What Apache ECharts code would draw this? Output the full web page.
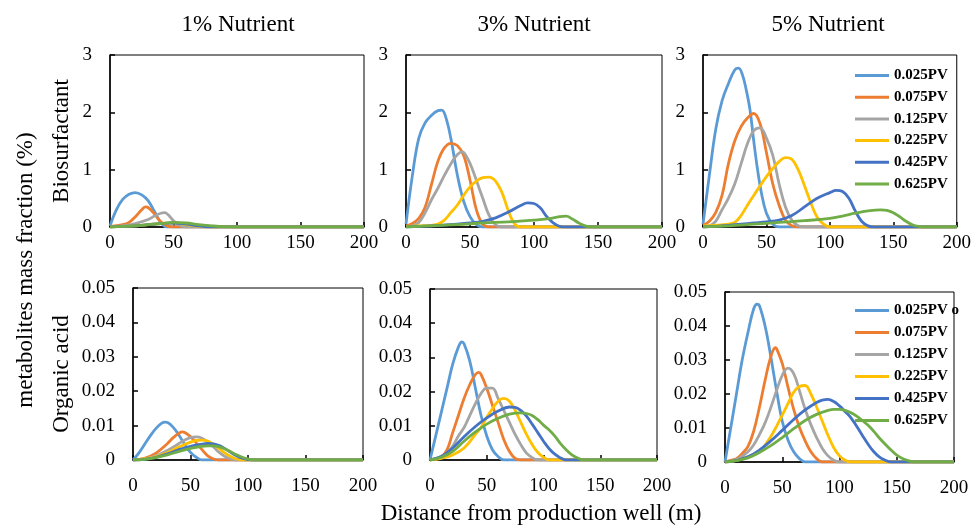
<!DOCTYPE html>
<html>
<head>
<meta charset="utf-8">
<script src="https://cdn.jsdelivr.net/npm/echarts@6/dist/echarts.min.js"></script>
<style>
  html, body { margin: 0; padding: 0; background: #fff; }
  #chart { width: 974px; height: 527px; }
</style>
</head>
<body>
<div id="chart"></div>
<script>
// Injection stages (pore volumes) and their line colours
const stages = ['0.025PV', '0.075PV', '0.125PV', '0.225PV', '0.425PV', '0.625PV'];
const stageColors = ['#5B9BD5', '#ED7D31', '#A5A5A5', '#FFC000', '#4472C4', '#70AD47'];
const nutrientTitles = ['1% Nutrient', '3% Nutrient', '5% Nutrient'];
const xTicks = [0, 50, 100, 150, 200];

// Biosurfactant mass fraction (%) vs distance (m), 1% nutrient
const bio1_025 = [[0,0.02],[5,0.3],[10,0.48],[15,0.57],[20,0.6],[25,0.56],[30,0.46],[35,0.27],[40,0.08],[45,0],[200,0]];
const bio1_075 = [[0,0.01],[10,0.04],[15,0.08],[20,0.18],[25,0.3],[28,0.35],[30,0.34],[35,0.23],[40,0.09],[45,0.02],[50,0],[200,0]];
const bio1_125 = [[0,0],[10,0.02],[20,0.06],[30,0.13],[35,0.19],[40,0.24],[43,0.25],[46,0.21],[50,0.11],[55,0.03],[60,0],[200,0]];
const bio1_225 = [[0,0],[20,0.02],[30,0.04],[40,0.06],[50,0.07],[55,0.06],[60,0.04],[70,0.01],[80,0],[200,0]];
const bio1_425 = [[0,0],[20,0.02],[30,0.04],[40,0.06],[50,0.07],[60,0.05],[70,0.02],[80,0],[200,0]];
const bio1_625 = [[0,0],[20,0.02],[30,0.04],[40,0.06],[50,0.08],[60,0.07],[70,0.04],[80,0.02],[90,0.005],[100,0],[200,0]];

// Biosurfactant, 3% nutrient
const bio3_025 = [[0,0.05],[5,0.9],[10,1.55],[15,1.82],[20,1.95],[25,2.03],[28,2.04],[31,1.92],[35,1.55],[40,0.92],[45,0.45],[50,0.18],[55,0.04],[60,0],[200,0]];
const bio3_075 = [[0,0.02],[5,0.06],[10,0.15],[15,0.35],[20,0.75],[25,1.15],[30,1.38],[35,1.46],[40,1.42],[45,1.25],[50,0.82],[55,0.3],[60,0.05],[65,0],[200,0]];
const bio3_125 = [[0,0],[5,0.02],[10,0.08],[15,0.25],[20,0.48],[25,0.68],[30,0.9],[35,1.1],[40,1.26],[44,1.31],[48,1.2],[52,1.0],[56,0.75],[60,0.5],[65,0.2],[70,0.04],[75,0],[200,0]];
const bio3_225 = [[0,0.01],[10,0.02],[20,0.03],[25,0.05],[30,0.12],[35,0.25],[40,0.38],[45,0.55],[50,0.7],[55,0.8],[60,0.86],[65,0.87],[70,0.8],[75,0.6],[80,0.28],[85,0.05],[90,0],[200,0]];
const bio3_425 = [[0,0],[20,0.02],[40,0.05],[50,0.07],[60,0.1],[70,0.16],[80,0.26],[90,0.38],[95,0.42],[100,0.41],[105,0.33],[110,0.18],[115,0.07],[120,0.01],[125,0],[200,0]];
const bio3_625 = [[0,0],[20,0.02],[40,0.04],[60,0.07],[80,0.09],[100,0.12],[110,0.14],[120,0.18],[125,0.19],[130,0.14],[135,0.07],[140,0.02],[145,0],[200,0]];

// Biosurfactant, 5% nutrient
const bio5_025 = [[0,0.05],[5,0.9],[10,1.7],[15,2.2],[20,2.5],[25,2.74],[28,2.77],[31,2.66],[34,2.4],[37,2.05],[40,1.5],[43,1.0],[46,0.6],[50,0.24],[55,0.05],[60,0],[200,0]];
const bio5_075 = [[0,0.03],[5,0.1],[10,0.25],[15,0.55],[20,1.1],[25,1.5],[30,1.75],[35,1.9],[40,1.98],[45,1.8],[50,1.3],[55,0.75],[60,0.38],[65,0.12],[70,0.02],[75,0],[200,0]];
const bio5_125 = [[0,0],[5,0.02],[10,0.1],[15,0.3],[20,0.5],[25,0.75],[30,1.1],[35,1.45],[40,1.68],[45,1.73],[50,1.55],[55,1.25],[60,0.75],[65,0.35],[70,0.12],[75,0.02],[80,0],[200,0]];
const bio5_225 = [[0,0.02],[10,0.03],[20,0.05],[25,0.08],[30,0.2],[35,0.38],[40,0.55],[45,0.72],[50,0.88],[55,1.02],[60,1.14],[65,1.21],[70,1.18],[75,1.0],[80,0.72],[85,0.42],[90,0.17],[95,0.05],[100,0],[200,0]];
const bio5_425 = [[0,0],[10,0.01],[20,0.03],[30,0.05],[40,0.07],[50,0.09],[60,0.12],[70,0.2],[80,0.35],[90,0.5],[100,0.6],[105,0.64],[110,0.62],[115,0.5],[120,0.28],[125,0.1],[130,0.02],[135,0],[200,0]];
const bio5_625 = [[0,0],[20,0.02],[40,0.05],[60,0.08],[80,0.11],[100,0.15],[110,0.19],[120,0.24],[130,0.28],[140,0.3],[145,0.29],[150,0.25],[155,0.18],[160,0.1],[165,0.04],[170,0.01],[175,0],[200,0]];

// Organic acid mass fraction (%), 1% nutrient
const oa1_025 = [[0,0],[5,0.002],[10,0.0045],[15,0.007],[20,0.0092],[25,0.0107],[28,0.011],[30,0.0109],[35,0.0095],[40,0.0072],[45,0.0045],[50,0.0022],[55,0.0008],[60,0],[200,0]];
const oa1_075 = [[0,0],[10,0.0005],[20,0.002],[30,0.0048],[35,0.0065],[40,0.0078],[43,0.0082],[45,0.008],[50,0.0068],[55,0.005],[60,0.003],[65,0.0012],[70,0.0003],[75,0],[200,0]];
const oa1_125 = [[0,0],[10,0.0003],[20,0.0012],[30,0.0028],[40,0.0048],[45,0.0058],[50,0.0065],[55,0.0067],[60,0.0063],[65,0.0052],[70,0.0038],[75,0.0022],[80,0.001],[85,0.0003],[90,0],[200,0]];
const oa1_225 = [[0,0],[10,0.0003],[20,0.001],[30,0.0022],[40,0.0038],[50,0.0052],[55,0.0057],[60,0.0058],[65,0.0055],[70,0.0045],[75,0.0033],[80,0.002],[85,0.001],[90,0.0003],[95,0],[200,0]];
const oa1_425 = [[0,0],[10,0.0002],[20,0.0008],[30,0.0018],[40,0.003],[50,0.004],[60,0.0046],[65,0.0048],[70,0.0047],[75,0.0042],[80,0.0033],[85,0.0022],[90,0.0012],[95,0.0005],[100,0.0001],[105,0],[200,0]];
const oa1_625 = [[0,0],[10,0.0002],[20,0.0007],[30,0.0015],[40,0.0025],[50,0.0034],[60,0.004],[65,0.0041],[70,0.0041],[75,0.0038],[80,0.0032],[85,0.0024],[90,0.0015],[95,0.0008],[100,0.0003],[105,0],[200,0]];

// Organic acid, 3% nutrient
const oa3_025 = [[0,0],[5,0.007],[10,0.014],[15,0.021],[20,0.028],[25,0.033],[28,0.0345],[30,0.034],[35,0.029],[40,0.021],[45,0.013],[50,0.007],[55,0.003],[60,0.001],[65,0],[200,0]];
const oa3_075 = [[0,0],[5,0.0003],[10,0.001],[15,0.003],[20,0.008],[25,0.013],[30,0.018],[35,0.022],[40,0.025],[43,0.0256],[45,0.025],[50,0.021],[55,0.016],[60,0.011],[65,0.006],[70,0.0025],[75,0.0005],[80,0],[200,0]];
const oa3_125 = [[0,0],[10,0.001],[15,0.002],[20,0.004],[25,0.007],[30,0.0095],[35,0.013],[40,0.0165],[45,0.0195],[50,0.021],[55,0.021],[60,0.018],[65,0.0145],[70,0.011],[75,0.0075],[80,0.0045],[85,0.002],[90,0.0007],[95,0],[200,0]];
const oa3_225 = [[0,0],[10,0.0005],[20,0.0015],[30,0.0035],[40,0.0075],[45,0.0095],[50,0.0125],[55,0.015],[60,0.0172],[65,0.018],[70,0.0172],[75,0.0145],[80,0.011],[85,0.0075],[90,0.0045],[95,0.0022],[100,0.0008],[105,0],[200,0]];
const oa3_425 = [[0,0],[10,0.001],[20,0.0035],[30,0.0068],[40,0.0098],[50,0.0123],[60,0.0143],[70,0.0155],[75,0.0154],[80,0.0145],[85,0.0128],[90,0.0105],[95,0.008],[100,0.0055],[105,0.0033],[110,0.0017],[115,0.0006],[120,0],[200,0]];
const oa3_625 = [[0,0],[10,0.0008],[20,0.0025],[30,0.0055],[40,0.0082],[50,0.0105],[60,0.0122],[70,0.0134],[80,0.0138],[85,0.0136],[90,0.013],[95,0.0118],[100,0.0102],[105,0.0088],[110,0.007],[115,0.0048],[120,0.003],[125,0.0015],[130,0.0006],[135,0],[200,0]];

// Organic acid, 5% nutrient
const oa5_025 = [[0,0],[5,0.01],[10,0.02],[15,0.03],[20,0.038],[25,0.045],[28,0.0464],[30,0.046],[35,0.04],[40,0.031],[45,0.021],[50,0.012],[55,0.0065],[60,0.003],[65,0.001],[70,0],[200,0]];
const oa5_075 = [[0,0],[5,0.0005],[10,0.001],[15,0.0025],[20,0.0045],[25,0.009],[30,0.016],[35,0.024],[40,0.031],[44,0.0336],[45,0.0334],[50,0.029],[55,0.022],[60,0.0155],[65,0.0102],[70,0.0062],[75,0.003],[80,0.001],[85,0],[200,0]];
const oa5_125 = [[0,0],[10,0.0007],[20,0.003],[25,0.005],[30,0.008],[35,0.0115],[40,0.016],[45,0.021],[50,0.0255],[55,0.0276],[60,0.026],[65,0.021],[70,0.0155],[75,0.011],[80,0.0072],[85,0.004],[90,0.0018],[95,0.0005],[100,0],[200,0]];
const oa5_225 = [[0,0],[10,0.0005],[20,0.0015],[30,0.003],[35,0.005],[40,0.0075],[45,0.0105],[50,0.0138],[55,0.0172],[60,0.0205],[65,0.0222],[70,0.0225],[75,0.02],[80,0.0162],[85,0.012],[90,0.0078],[95,0.0042],[100,0.0018],[105,0.0005],[110,0],[200,0]];
const oa5_425 = [[0,0],[10,0.0005],[20,0.0015],[30,0.0035],[40,0.0062],[50,0.0093],[60,0.0125],[70,0.0153],[80,0.0175],[85,0.0182],[90,0.0184],[95,0.0178],[100,0.0165],[105,0.0148],[110,0.013],[115,0.0105],[120,0.0078],[125,0.0052],[130,0.003],[135,0.0014],[140,0.0005],[145,0],[200,0]];
const oa5_625 = [[0,0],[10,0.0004],[20,0.0012],[30,0.0028],[40,0.0048],[50,0.0072],[60,0.0098],[70,0.0122],[80,0.014],[90,0.0152],[95,0.0155],[100,0.0155],[105,0.0152],[110,0.0145],[115,0.0135],[120,0.0122],[125,0.0108],[130,0.009],[135,0.007],[140,0.0052],[145,0.0035],[150,0.002],[155,0.001],[160,0.0004],[165,0],[200,0]];

const panelData = [
  [bio1_025, bio1_075, bio1_125, bio1_225, bio1_425, bio1_625],
  [bio3_025, bio3_075, bio3_125, bio3_225, bio3_425, bio3_625],
  [bio5_025, bio5_075, bio5_125, bio5_225, bio5_425, bio5_625],
  [oa1_025, oa1_075, oa1_125, oa1_225, oa1_425, oa1_625],
  [oa3_025, oa3_075, oa3_125, oa3_225, oa3_425, oa3_625],
  [oa5_025, oa5_075, oa5_125, oa5_225, oa5_425, oa5_625]
];

// Plot rectangles for the 2 x 3 panel layout
const panelBoxes = [
  { left: 110, top: 55, width: 254, height: 172 },
  { left: 406, top: 55, width: 256, height: 172 },
  { left: 703, top: 55, width: 254, height: 172 },
  { left: 133, top: 288, width: 230, height: 172 },
  { left: 430, top: 289, width: 227, height: 171 },
  { left: 725, top: 292, width: 229, height: 170 }
];

const serif = '"Liberation Serif", "Times New Roman", serif';
const tickFont = { fontFamily: serif, fontSize: 19, color: '#000' };

const grids = [], xAxes = [], yAxes = [], series = [];
panelBoxes.forEach((b, i) => {
  const isBio = i < 3;
  grids.push({ left: b.left, top: b.top, width: b.width, height: b.height,
    show: true, borderColor: '#000', borderWidth: 1, backgroundColor: 'transparent' });
  xAxes.push({
    type: 'value', gridIndex: i, min: 0, max: 200, interval: 50,
    axisLine: { show: true, onZero: false, lineStyle: { color: '#000', width: 1.5 } },
    axisTick: { show: true, inside: true, length: 5, lineStyle: { color: '#000', width: 1.5 } },
    axisLabel: Object.assign({ margin: isBio ? 7 : 17,
      formatter: v => xTicks.indexOf(v) >= 0 ? String(v) : '' }, tickFont),
    splitLine: { show: false }
  });
  yAxes.push({
    type: 'value', gridIndex: i, min: 0,
    max: isBio ? 3 : 0.05, interval: isBio ? 1 : 0.01,
    axisLine: { show: true, lineStyle: { color: '#000', width: 1.5 } },
    axisTick: { show: true, inside: true, length: 5, lineStyle: { color: '#000', width: 1.5 } },
    axisLabel: Object.assign({ margin: 18,
      formatter: v => v === 0 ? '0' : (isBio ? String(Math.round(v)) : v.toFixed(2)) }, tickFont),
    splitLine: { show: false }
  });
  panelData[i].forEach((d, k) => {
    series.push({
      name: stages[k], type: 'line', xAxisIndex: i, yAxisIndex: i,
      data: d, smooth: 0.4, symbol: 'none', showSymbol: false,
      lineStyle: { color: stageColors[k], width: 2.8 },
      itemStyle: { color: stageColors[k] },
      z: 2 + k
    });
  });
});

// Stage legends beside the 5% nutrient panels
const legendText = { fontFamily: serif, fontSize: 15, fontWeight: 'bold', color: '#000', lineHeight: 15 };
const legends = [
  { left: 850, top: 63, orient: 'vertical', itemWidth: 34, itemHeight: 3, itemGap: 6.7,
    icon: 'rect', data: stages, textStyle: legendText, selectedMode: false },
  { left: 850, top: 298, orient: 'vertical', itemWidth: 34, itemHeight: 3, itemGap: 7,
    icon: 'rect', data: stages, textStyle: legendText, selectedMode: false,
    formatter: name => name === '0.025PV' ? name + ' o' : name }
];

const bigFont = serif;
const graphics = [];
const titleCenters = [238, 534, 828];
nutrientTitles.forEach((t, i) => {
  graphics.push({ type: 'text', x: titleCenters[i], y: 25,
    style: { text: t, font: '23px ' + bigFont, fill: '#000', textAlign: 'center', textVerticalAlign: 'middle' } });
});
graphics.push({ type: 'text', x: 62, y: 141, rotation: Math.PI / 2,
  style: { text: 'Biosurfactant', font: '23px ' + bigFont, fill: '#000', textAlign: 'center', textVerticalAlign: 'middle' } });
graphics.push({ type: 'text', x: 62, y: 374, rotation: Math.PI / 2,
  style: { text: 'Organic acid', font: '23px ' + bigFont, fill: '#000', textAlign: 'center', textVerticalAlign: 'middle' } });
graphics.push({ type: 'text', x: 26, y: 270, rotation: Math.PI / 2,
  style: { text: 'metabolites mass fraction (%)', font: '23px ' + bigFont, fill: '#000', textAlign: 'center', textVerticalAlign: 'middle' } });
graphics.push({ type: 'text', x: 541, y: 514,
  style: { text: 'Distance from production well (m)', font: '23px ' + bigFont, fill: '#000', textAlign: 'center', textVerticalAlign: 'middle' } });

const chart = echarts.init(document.getElementById('chart'), null, { renderer: 'canvas' });
chart.setOption({
  animation: false,
  backgroundColor: '#fff',
  grid: grids, xAxis: xAxes, yAxis: yAxes,
  legend: legends,
  graphic: graphics,
  series: series
});
</script>
</body>
</html>
